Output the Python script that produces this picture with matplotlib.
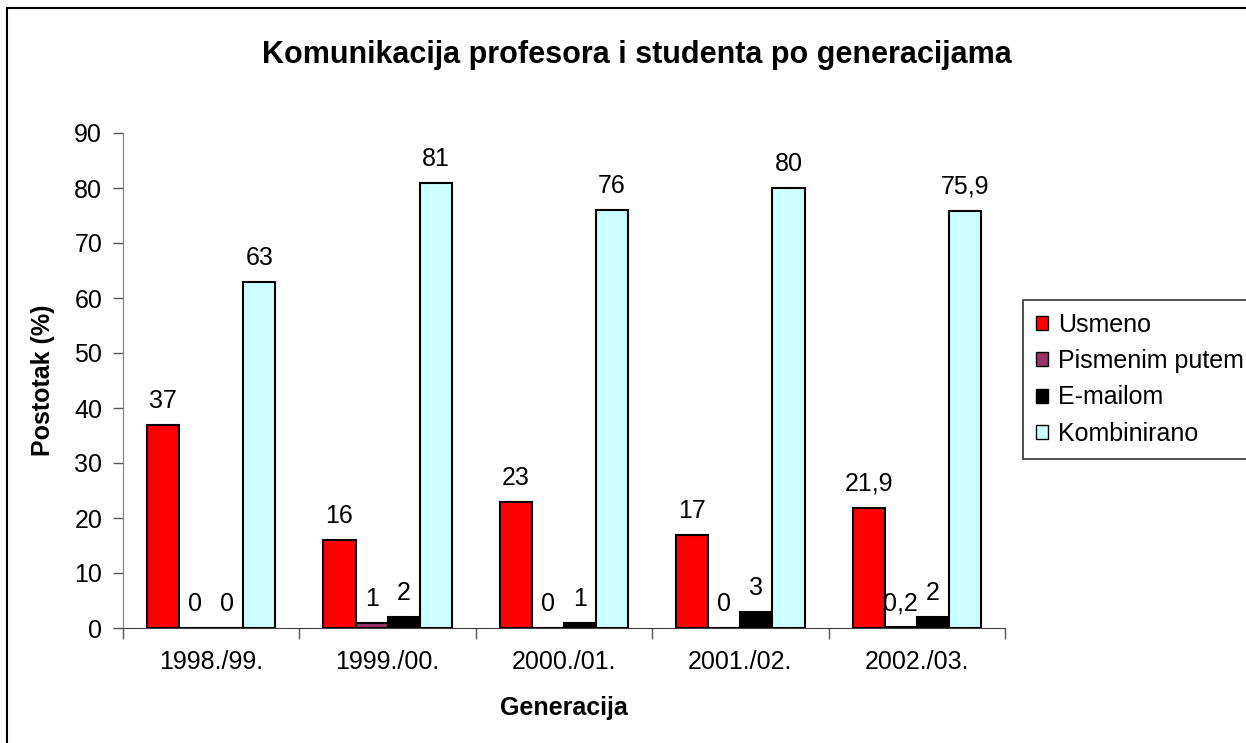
import numpy as np
import matplotlib.pyplot as plt
from matplotlib.patches import Rectangle

plt.rcParams['font.family'] = ['Liberation Sans', 'DejaVu Sans']

generacije = ['1998./99.', '1999./00.', '2000./01.', '2001./02.', '2002./03.']
usmeno = [37, 16, 23, 17, 21.9]
pismenim = [0, 1, 0, 0, 0.2]
emailom = [0, 2, 1, 3, 2]
kombinirano = [63, 81, 76, 80, 75.9]

serije = ['Usmeno', 'Pismenim putem', 'E-mailom', 'Kombinirano']
boje = ['#FF0000', '#993366', '#000000', '#CCFFFF']
podaci = [usmeno, pismenim, emailom, kombinirano]

W, H = 1246, 743
fs = 18
fig = plt.figure(figsize=(W / 100, H / 100), dpi=100)
ax = fig.add_axes([123 / W, 1 - 628 / H, (1005 - 123) / W, (628 - 133) / H])

x = np.arange(len(generacije))
w = 1 / 5.5
for i, (ime, boja, vals) in enumerate(zip(serije, boje, podaci)):
    pos = x + (i - 1.5) * w
    ax.bar(pos, vals, w, color=boja, edgecolor='black', linewidth=1.5, label=ime)
    for px, v in zip(pos, vals):
        txt = ('%g' % v).replace('.', ',')
        ax.annotate(txt, (px, v), xytext=(0, 12), textcoords='offset points',
                    ha='center', va='baseline', fontsize=fs)

ax.set_xlim(-0.5, len(generacije) - 0.5)
ax.set_ylim(0, 90)
ax.set_yticks(range(0, 91, 10))
ax.set_xticks(x)
ax.set_xticklabels(generacije, fontsize=fs)
ax.set_xticks(np.arange(-0.5, len(generacije)), minor=True)
ax.tick_params(axis='x', which='major', length=0, pad=16)
ax.tick_params(axis='x', which='minor', length=8, width=1, color='#555555')
ax.tick_params(axis='y', length=7, width=1, color='#555555', labelsize=fs, pad=8)

for s in ['top', 'right']:
    ax.spines[s].set_visible(False)
ax.spines['left'].set_color('#808080')
ax.spines['bottom'].set_color('#404040')

ax.set_ylabel('Postotak (%)', fontsize=fs, fontweight='bold', labelpad=14)
ax.set_xlabel('Generacija', fontsize=fs, fontweight='bold', labelpad=16)

fig.text(637 / W, 1 - 55 / H, 'Komunikacija profesora i studenta po generacijama',
         ha='center', va='center', fontsize=22, fontweight='bold')

leg = fig.legend(loc='upper left', bbox_to_anchor=(1023 / W, 1 - 300 / H),
                 fontsize=fs, frameon=True, fancybox=False, shadow=False,
                 handlelength=0.5, handleheight=0.5, handletextpad=0.4,
                 labelspacing=0.5, borderpad=0.5, borderaxespad=0)
leg.get_frame().set_edgecolor('black')
leg.get_frame().set_linewidth(1.2)
for h in leg.legend_handles:
    h.set_linewidth(1.0)

fig.patches.append(Rectangle((7 / W, -0.1), 2, 1 - 8 / H + 0.1, transform=fig.transFigure,
                             fill=False, edgecolor='black', linewidth=1.5, clip_on=False))

fig.savefig('out.png', dpi=100)
